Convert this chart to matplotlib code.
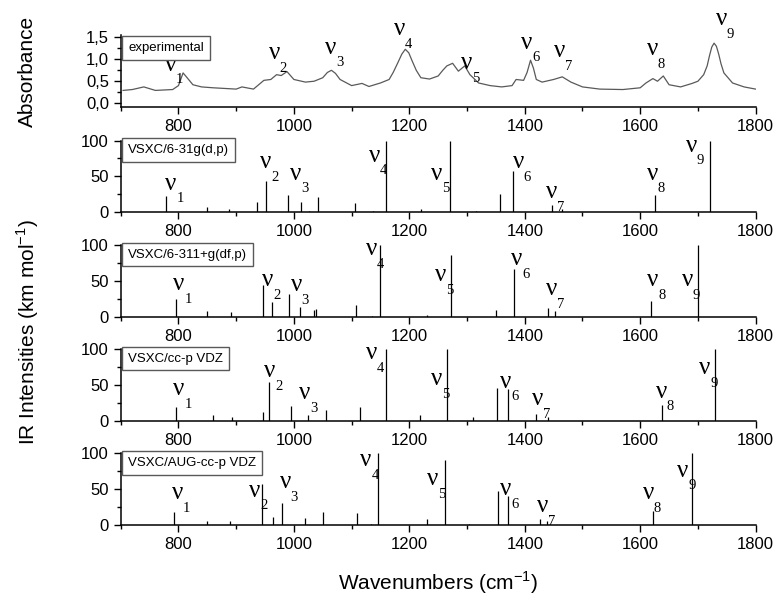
import matplotlib
matplotlib.use("Agg")
import matplotlib.pyplot as plt
from matplotlib.ticker import MultipleLocator

plt.rcParams["font.family"] = ["Liberation Sans", "DejaVu Sans"]

# experimental spectrum (wavenumber, absorbance)
exp_wn = [704, 720, 740, 760, 790, 800, 808, 815, 825, 840, 860, 900, 910, 930,
          948, 960, 970, 978, 988, 1000, 1020, 1035, 1050, 1058, 1065, 1072, 1080,
          1100, 1118, 1130, 1150, 1165, 1172, 1180, 1187, 1193, 1199, 1205, 1212,
          1220, 1235, 1250, 1258, 1265, 1275, 1285, 1296, 1305, 1320, 1340, 1360,
          1378, 1385, 1398, 1404, 1410, 1415, 1420, 1430, 1450, 1465, 1480, 1500,
          1530, 1570, 1600, 1610, 1622, 1630, 1640, 1650, 1670, 1690, 1700, 1710,
          1716, 1720, 1724, 1728, 1732, 1736, 1740, 1745, 1760, 1780, 1800]
exp_abs = [0.29, 0.31, 0.37, 0.29, 0.31, 0.40, 0.69, 0.58, 0.42, 0.37, 0.35, 0.32,
           0.37, 0.32, 0.52, 0.54, 0.65, 0.63, 0.72, 0.54, 0.48, 0.50, 0.58, 0.70,
           0.75, 0.68, 0.54, 0.40, 0.45, 0.38, 0.46, 0.54, 0.70, 0.92, 1.12, 1.23,
           1.15, 0.96, 0.75, 0.58, 0.55, 0.62, 0.75, 0.85, 0.91, 0.73, 0.85, 0.65,
           0.46, 0.40, 0.37, 0.40, 0.54, 0.52, 0.70, 0.98, 0.80, 0.54, 0.48, 0.54,
           0.60, 0.48, 0.37, 0.32, 0.31, 0.35, 0.46, 0.56, 0.50, 0.62, 0.42, 0.37,
           0.45, 0.50, 0.65, 0.85, 1.08, 1.28, 1.37, 1.30, 1.12, 0.90, 0.69, 0.46,
           0.37, 0.32]
exp_lbl = [(786, 0.88), (966, 1.15), (1064, 1.27), (1183, 1.69), (1299, 0.92),
           (1404, 1.38), (1460, 1.19), (1621, 1.23), (1741, 1.92)]

# calculated spectra: stick positions, intensities, nu label positions
names = ["VSXC/6-31g(d,p)", "VSXC/6-311+g(df,p)", "VSXC/cc-p VDZ", "VSXC/AUG-cc-p VDZ"]

wn_a = [779, 850, 887, 936, 952, 990, 1013, 1026, 1041, 1106, 1137, 1159, 1221,
        1270, 1315, 1357, 1380, 1448, 1464, 1625, 1721]
int_a = [23, 8, 5, 15, 43, 24, 14, 2, 22, 13, 2, 100, 5, 100, 2, 26, 58, 10, 4, 24, 100]
lbl_a = [(787, 40), (951, 70), (1003, 54), (1140, 79), (1247, 54), (1389, 70),
         (1446, 28), (1621, 54), (1689, 93)]

wn_b = [795, 850, 891, 947, 962, 992, 1011, 1035, 1039, 1107, 1135, 1150, 1230,
        1272, 1350, 1382, 1440, 1453, 1618, 1700]
int_b = [25, 8, 7, 44, 21, 32, 14, 10, 11, 17, 2, 100, 3, 86, 10, 67, 12, 8, 22, 100]
lbl_b = [(801, 46), (955, 51), (1004, 44), (1135, 95), (1255, 58), (1386, 81),
         (1446, 39), (1622, 51), (1682, 51)]

wn_c = [795, 859, 893, 947, 956, 995, 1025, 1055, 1114, 1159, 1219, 1266, 1310,
        1352, 1371, 1419, 1440, 1638, 1730]
int_c = [20, 8, 6, 12, 55, 21, 8, 15, 20, 100, 9, 100, 6, 46, 45, 10, 5, 22, 100]
lbl_c = [(801, 44), (958, 69), (1019, 39), (1135, 95), (1247, 58), (1367, 55),
         (1423, 30), (1637, 41), (1712, 74)]

wn_d = [792, 849, 890, 944, 963, 980, 1020, 1050, 1110, 1133, 1145, 1230, 1262,
        1303, 1353, 1371, 1427, 1438, 1623, 1689]
int_d = [18, 6, 5, 57, 11, 31, 10, 18, 17, 2, 100, 8, 90, 2, 47, 40, 9, 6, 20, 100]
lbl_d = [(798, 45), (932, 48), (985, 60), (1125, 90), (1240, 64), (1367, 50),
         (1431, 26), (1614, 45), (1674, 76)]

sticks = [(wn_a, int_a, lbl_a), (wn_b, int_b, lbl_b), (wn_c, int_c, lbl_c), (wn_d, int_d, lbl_d)]


def nu(ax, x, y, i):
    ax.text(x, y, "ν", family="Liberation Serif", fontsize=18, ha="center", va="center",
            clip_on=False)
    ax.annotate(str(i), (x, y), xytext=(6.5, -11), textcoords="offset points",
                family="Liberation Serif", fontsize=10.5, ha="center", va="center",
                annotation_clip=False)


def style(ax):
    for s in ["top", "right"]:
        ax.spines[s].set_visible(False)
    for s in ["left", "bottom"]:
        ax.spines[s].set_linewidth(1.1)
    ax.set_xlim(700, 1800)
    ax.xaxis.set_major_locator(MultipleLocator(200))
    ax.xaxis.set_minor_locator(MultipleLocator(100))
    ax.tick_params(which="major", direction="out", length=5, width=1, labelsize=12)
    ax.tick_params(which="minor", direction="out", length=3, width=1)


def box(ax, text, y):
    ax.text(0.012, y, text, transform=ax.transAxes, fontsize=9.5, ha="left", va="center",
            bbox=dict(boxstyle="square,pad=0.45", fc="white", ec="0.35", lw=1.0),
            clip_on=False, zorder=5)


fig = plt.figure(figsize=(7.79, 5.98), dpi=100)
left, width, height = 0.155, 0.815, 0.120
bottoms = [0.821, 0.645, 0.470, 0.296, 0.122]

ax0 = fig.add_axes([left, bottoms[0], width, height])
ax0.plot(exp_wn, exp_abs, color="0.35", lw=0.9)
ax0.set_ylim(-0.09, 1.55)
ax0.set_yticks([0, 0.5, 1.0, 1.5])
ax0.set_yticklabels(["0,0", "0,5", "1,0", "1,5"])
ax0.yaxis.set_minor_locator(MultipleLocator(0.25))
style(ax0)
box(ax0, "experimental", 0.82)
for i, (x, y) in enumerate(exp_lbl, 1):
    nu(ax0, x, y, i)

for k, (wn, inten, lbl) in enumerate(sticks):
    ax = fig.add_axes([left, bottoms[k + 1], width, height])
    ax.vlines(wn, 0, inten, color="black", lw=0.9)
    ax.set_ylim(0, 100)
    ax.set_yticks([0, 50, 100])
    ax.yaxis.set_minor_locator(MultipleLocator(25))
    style(ax)
    box(ax, names[k], 0.87)
    for i, (x, y) in enumerate(lbl, 1):
        nu(ax, x, y, i)

fig.text(0.035, 0.881, "Absorbance", rotation=90, fontsize=15, ha="center", va="center")
fig.text(0.035, 0.445, "IR Intensities (km mol$^{\\mathregular{-1}}$)", rotation=90,
         fontsize=15, ha="center", va="center")
fig.text(0.563, 0.025, "Wavenumbers (cm$^{\\mathregular{-1}}$)", fontsize=15,
         ha="center", va="center")

fig.savefig("out.png", dpi=100)
